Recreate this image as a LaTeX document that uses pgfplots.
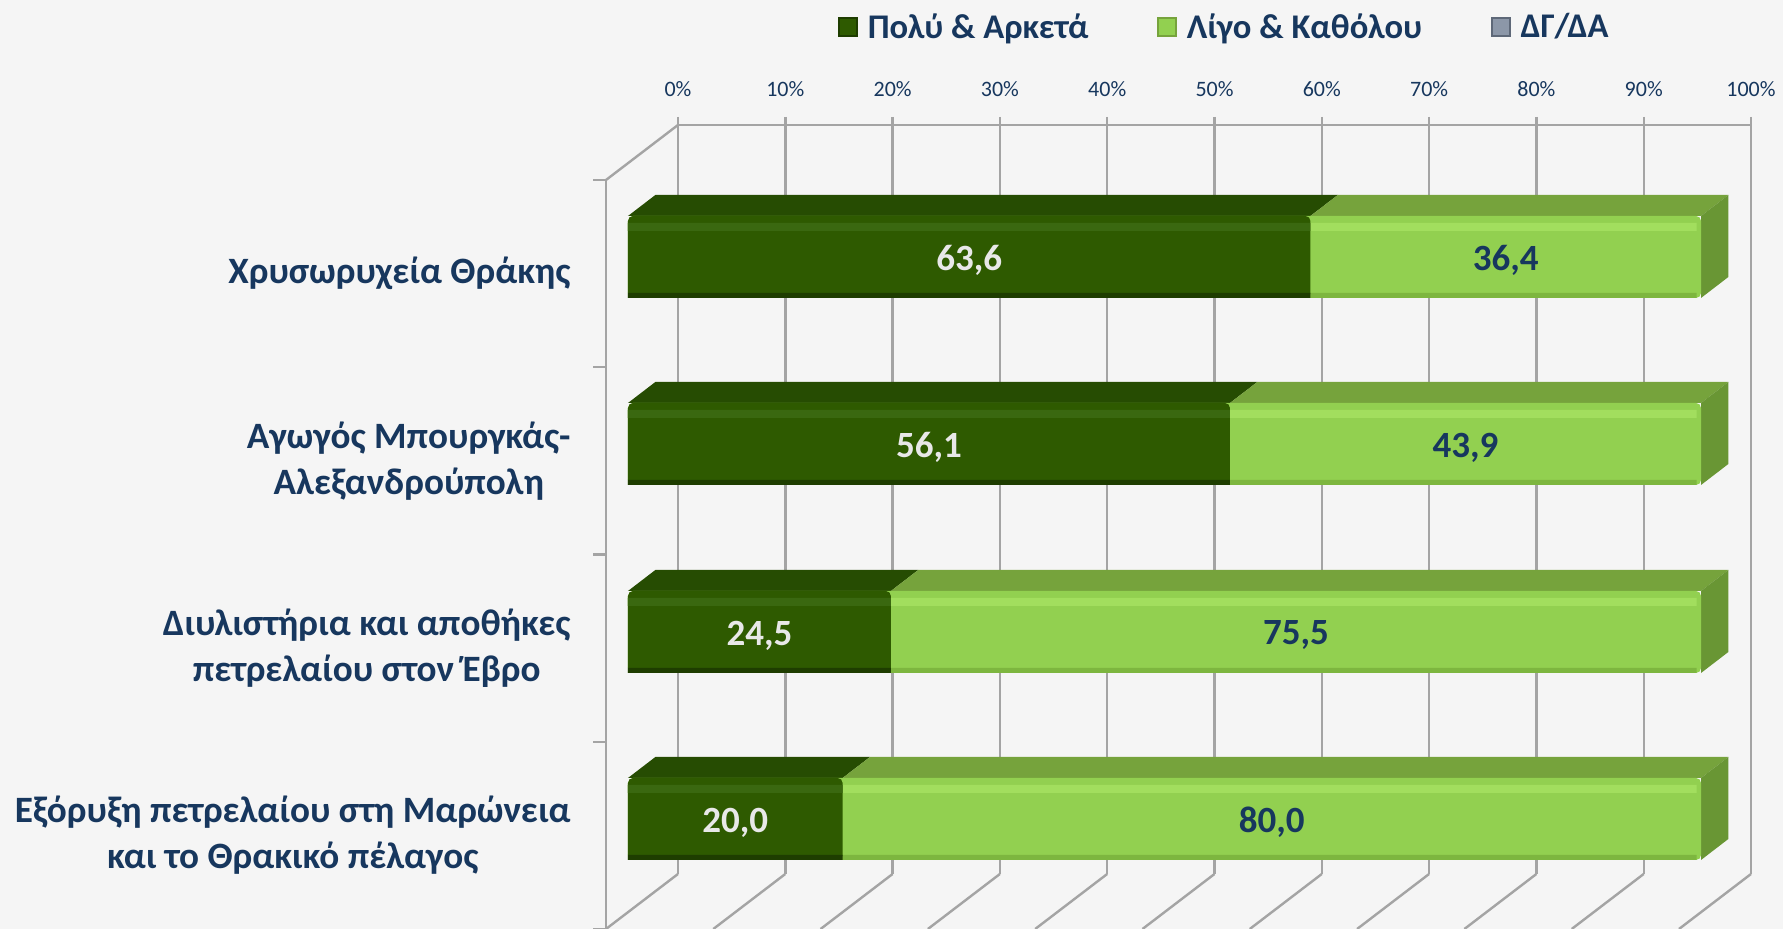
\documentclass[border=0pt]{standalone}
\usepackage{fontspec}
\setmainfont{Carlito}
\usepackage{pgfplots}
\usepackage{pgfplotstable}
\pgfplotsset{compat=1.18}

\definecolor{bg}{HTML}{F5F5F5}
\definecolor{gridgray}{HTML}{A4A4A4}
\definecolor{navy}{HTML}{17375E}
\definecolor{lbl}{HTML}{E8E8E8}
% dark series
\definecolor{dkbot}{HTML}{1E3D00}
\definecolor{dkmain}{HTML}{2E5A00}
\definecolor{dkhi}{HTML}{3A6810}
\definecolor{dktop}{HTML}{264C02}
% light series
\definecolor{ltbot}{HTML}{7DB63F}
\definecolor{ltmain}{HTML}{92D050}
\definecolor{lthi}{HTML}{A2DE5E}
\definecolor{lttop}{HTML}{76A33C}
\definecolor{ltside}{HTML}{699634}
% no-answer series (legend only)
\definecolor{na}{HTML}{8C97A8}
\definecolor{nadark}{HTML}{5E6878}

% y = bar centre (units of 0.5pt from the bottom), a = Πολύ & Αρκετά, b = Λίγο & Καθόλου
\pgfplotstableread{
y   a    b
672 63.6 36.4
485 56.1 43.9
297 24.5 75.5
110 20.0 80.0
}\shares

\begin{document}
\begin{tikzpicture}
\fill[bg] (0,0) rectangle (891.5pt,464.5pt);

% ---------------- back wall: percent ticks and grid ----------------
\begin{axis}[
  at={(339pt,27.5pt)}, anchor=south west,
  x=5.365pt, y=374.5pt,
  xmin=0, xmax=100, ymin=0, ymax=1,
  axis x line*=top, axis y line=none,
  xtick={0,10,...,100}, ytick=\empty,
  xmajorgrids, grid style={gridgray, line width=1.2pt},
  axis line style={gridgray, line width=1.2pt},
  tick align=outside, major tick length=4pt,
  tick style={gridgray, line width=1.2pt},
  xticklabel={\pgfmathprintnumber[assume math mode=true]{\tick}\%},
  xticklabel style={font=\fontsize{11pt}{13pt}\selectfont, text=navy, yshift=6.8pt},
]
\end{axis}

% ---------------- front: walls, floor and bars ----------------
\begin{axis}[
  at={(303pt,0pt)}, anchor=south west,
  x=5.365pt, y=0.5pt,
  xmin=-2.05, xmax=104.66, ymin=0, ymax=749,
  clip=false,
  axis x line=none, axis y line*=left,
  axis line style={gridgray, line width=1.2pt},
  ytick={93.6,280.9,468.1,655.4},
  yticklabels={{Εξόρυξη πετρελαίου στη Μαρώνεια\\και το Θρακικό πέλαγος},
               {Διυλιστήρια και αποθήκες\\πετρελαίου στον Έβρο},
               {Αγωγός Μπουργκάς-\\Αλεξανδρούπολη},
               {Χρυσωρυχεία Θράκης}},
  yticklabel style={font=\bfseries\fontsize{18.6pt}{22.8pt}\selectfont, text=navy,
                    align=center, anchor=east, inner sep=0pt, xshift=-17.5pt},
  minor ytick={0,187.25,374.5,561.75,749},
  major tick length=0pt, minor tick length=6.5pt, tick align=outside,
  tick style={gridgray, line width=1.2pt},
  legend columns=3,
  legend image code/.code={\draw[#1, line width=0.7pt] (0pt,-4.5pt) rectangle (9pt,4.5pt);},
  legend style={at={(axis description cs:0.2026,1.204)}, anchor=west,
                draw=none, fill=none, inner sep=0pt,
                font=\bfseries\fontsize{17.3pt}{20pt}\selectfont, text=navy,
                /tikz/every odd column/.append style={column sep=3pt},
                /tikz/every even column/.append style={column sep=32.5pt}},
]
% wall and floor edges
\draw[gridgray, line width=1.2pt] (axis cs:-2.05,749) -- (axis cs:4.66,804);
\pgfplotsinvokeforeach{0,10,...,100}{
  \draw[gridgray, line width=1.2pt] (axis cs:#1+4.66,55) -- (axis cs:#1-2.05,0);
}
% top and side faces of the bars
\fill[dktop]  (axis cs:0,713) -- (axis cs:63.6,713) -- (axis cs:66.15,734) -- (axis cs:2.55,734) -- cycle;
\fill[lttop]  (axis cs:63.6,713) -- (axis cs:100,713) -- (axis cs:102.55,734) -- (axis cs:66.15,734) -- cycle;
\fill[ltside] (axis cs:100,631) -- (axis cs:100,713) -- (axis cs:102.55,734) -- (axis cs:102.55,652) -- cycle;
\fill[dktop]  (axis cs:0,526) -- (axis cs:56.1,526) -- (axis cs:58.65,547) -- (axis cs:2.55,547) -- cycle;
\fill[lttop]  (axis cs:56.1,526) -- (axis cs:100,526) -- (axis cs:102.55,547) -- (axis cs:58.65,547) -- cycle;
\fill[ltside] (axis cs:100,444) -- (axis cs:100,526) -- (axis cs:102.55,547) -- (axis cs:102.55,465) -- cycle;
\fill[dktop]  (axis cs:0,338) -- (axis cs:24.5,338) -- (axis cs:27.05,359) -- (axis cs:2.55,359) -- cycle;
\fill[lttop]  (axis cs:24.5,338) -- (axis cs:100,338) -- (axis cs:102.55,359) -- (axis cs:27.05,359) -- cycle;
\fill[ltside] (axis cs:100,256) -- (axis cs:100,338) -- (axis cs:102.55,359) -- (axis cs:102.55,277) -- cycle;
\fill[dktop]  (axis cs:0,151) -- (axis cs:20,151) -- (axis cs:22.55,172) -- (axis cs:2.55,172) -- cycle;
\fill[lttop]  (axis cs:20,151) -- (axis cs:100,151) -- (axis cs:102.55,172) -- (axis cs:22.55,172) -- cycle;
\fill[ltside] (axis cs:100,69) -- (axis cs:100,151) -- (axis cs:102.55,172) -- (axis cs:102.55,90) -- cycle;

% front faces: light (whole bar), then dark on top, each with a bevel highlight and a shadow edge
\addplot[xbar, bar shift=0, bar width=82, draw=none, fill=ltmain, rounded corners=2.5pt, forget plot]
  table[x expr=\thisrow{a}+\thisrow{b}, y=y] {\shares};
\addplot[xbar, bar shift=30, bar width=8, draw=none, fill=lthi, forget plot]
  table[x expr=\thisrow{a}+\thisrow{b}-0.4, y=y] {\shares};
\addplot[xbar, bar shift=-38.5, bar width=5, draw=none, fill=ltbot, forget plot]
  table[x expr=\thisrow{a}+\thisrow{b}-0.4, y=y] {\shares};
\addplot[xbar, bar shift=0, bar width=82, draw=none, fill=dkmain, rounded corners=2.5pt, forget plot]
  table[x=a, y=y] {\shares};
\addplot[xbar, bar shift=30, bar width=8, draw=none, fill=dkhi, forget plot]
  table[x=a, y=y] {\shares};
\addplot[xbar, bar shift=-38.5, bar width=5, draw=none, fill=dkbot, forget plot]
  table[x=a, y=y] {\shares};

% value labels
\addplot[draw=none, mark=none, forget plot, point meta=explicit,
  nodes near coords={\pgfmathprintnumber[fixed, fixed zerofill, precision=1, use comma, assume math mode=true]{\pgfplotspointmeta}},
  every node near coord/.append style={anchor=center, inner sep=0pt, yshift=-1.7pt, text=lbl, font=\bfseries\fontsize{18.5pt}{20pt}\selectfont}]
  table[x expr=\thisrow{a}/2, y=y, meta=a] {\shares};
\addplot[draw=none, mark=none, forget plot, point meta=explicit,
  nodes near coords={\pgfmathprintnumber[fixed, fixed zerofill, precision=1, use comma, assume math mode=true]{\pgfplotspointmeta}},
  every node near coord/.append style={anchor=center, inner sep=0pt, yshift=-1.7pt, text=navy, font=\bfseries\fontsize{18.5pt}{20pt}\selectfont}]
  table[x expr=\thisrow{a}+\thisrow{b}/2, y=y, meta=b] {\shares};

\addlegendimage{fill=dkmain, draw=dkbot}
\addlegendentry{Πολύ \& Αρκετά}
\addlegendimage{fill=ltmain, draw=lttop}
\addlegendentry{Λίγο \& Καθόλου}
\addlegendimage{fill=na, draw=nadark}
\addlegendentry{ΔΓ/ΔΑ}
\end{axis}

\pgfresetboundingbox
\path[use as bounding box] (0,0) rectangle (891.5pt,464.5pt);
\end{tikzpicture}
\end{document}
